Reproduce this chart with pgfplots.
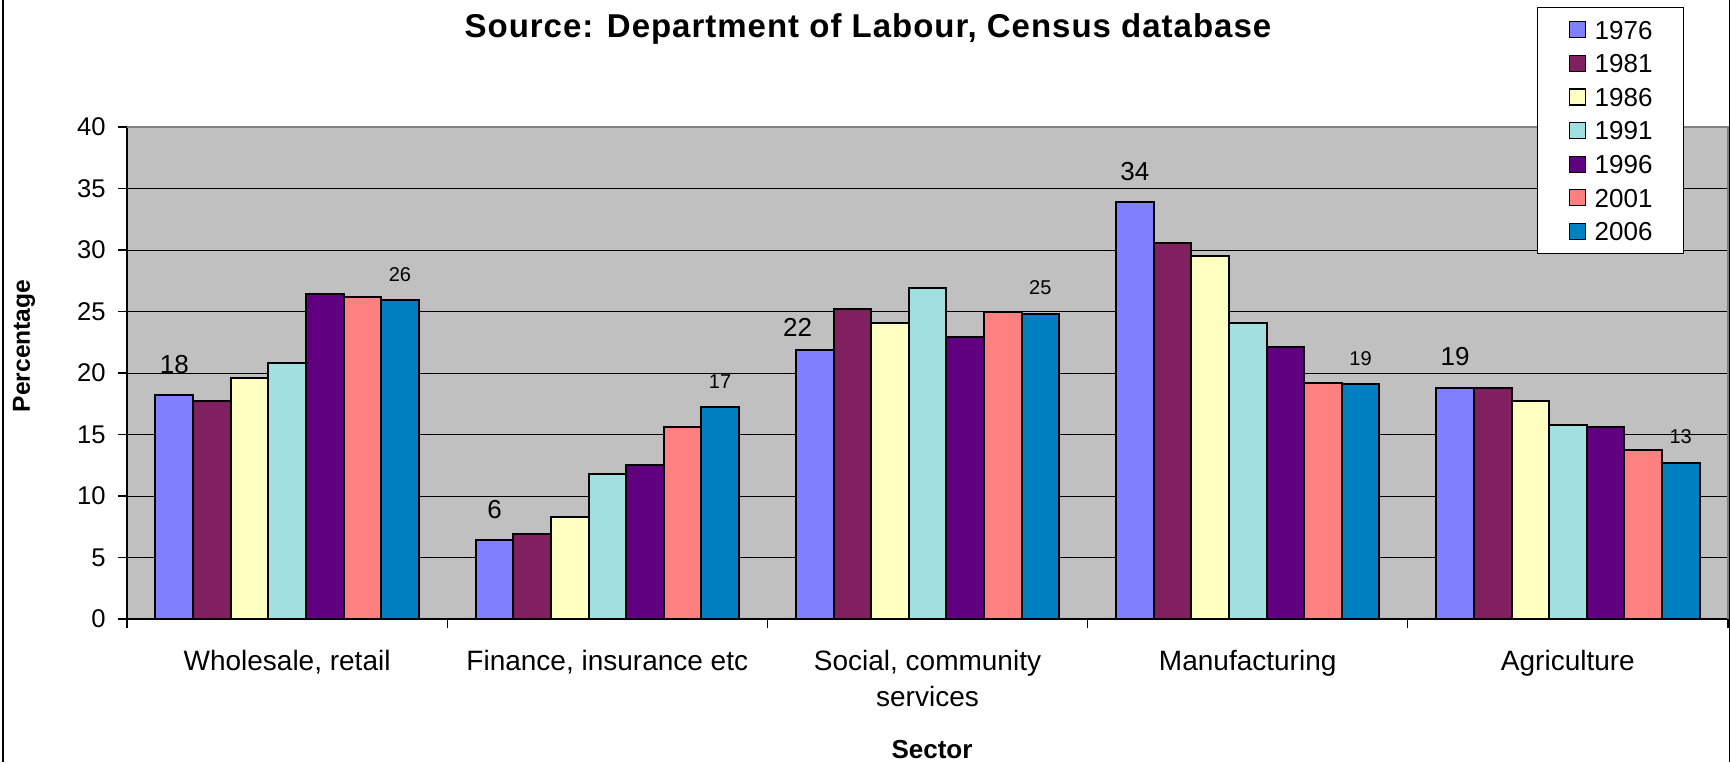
\documentclass[border=0pt]{standalone}
\usepackage{fontspec}
\setmainfont{Liberation Sans}
\usepackage{pgfplots}
\usepackage{pgfplotstable}
\pgfplotsset{compat=1.18}

\definecolor{c1976}{HTML}{8080FF}
\definecolor{c1981}{HTML}{802060}
\definecolor{c1986}{HTML}{FFFFC0}
\definecolor{c1991}{HTML}{A0E0E0}
\definecolor{c1996}{HTML}{600080}
\definecolor{c2001}{HTML}{FF8080}
\definecolor{c2006}{HTML}{0080C0}
\definecolor{plotbg}{HTML}{C0C0C0}
\definecolor{frame}{HTML}{808080}

% Share of employment (%) by sector, census years 1976--2006
% (labdx, labdy: placement of the 1976 value label, in pt)
\pgfplotstableread{
x  y1976 y1981 y1986 y1991 y1996 y2001 y2006 labdx labdy
0  18.2  17.7  19.6  20.8  26.4  26.2  25.9  0     11
1  6.4   6.9   8.3   11.8  12.5  15.6  17.2  0     11
2  21.9  25.2  24.1  26.9  22.9  25.0  24.8  -8.5  6.6
3  33.9  30.6  29.5  24.1  22.1  19.2  19.1  0     11
4  18.8  18.8  17.7  15.8  15.6  13.7  12.7  0     11
}\sectordata

\begin{document}
\begin{tikzpicture}
\useasboundingbox (0,0) rectangle (865pt,381pt);
% chart frame
\draw[black, line width=0.6pt] (1.5pt,0pt) -- (1.5pt,381pt);
\draw[black, line width=0.6pt] (864.6pt,0pt) -- (864.6pt,381pt);
\begin{axis}[
  at={(63.5pt,71.5pt)}, anchor=south west,
  width=800.5pt, height=246pt, scale only axis,
  ybar=0pt, bar width=18.8pt,
  xmin=-0.5, xmax=4.5, ymin=0, ymax=40,
  axis lines*=left, axis line style={-, black, line width=0.6pt},
  axis background/.style={fill=plotbg},
  xtick={0,1,2,3,4},
  xticklabels={{Wholesale, retail},{Finance, insurance etc},{Social, community\\services},{Manufacturing},{Agriculture}},
  minor xtick={-0.5,0.5,1.5,2.5,3.5,4.5},
  major x tick style={draw=none},
  minor x tick style={black, line width=0.6pt},
  ytick={0,5,...,40},
  ytick style={black, line width=0.6pt},
  tick align=outside,
  major tick length=4.5pt, minor tick length=4.5pt,
  ymajorgrids, major grid style={black, line width=0.5pt},
  /pgf/number format/assume math mode=true,
  xticklabel style={font=\fontsize{14}{18}\selectfont, align=center, inner sep=0pt, anchor=north, yshift=-11pt},
  yticklabel style={font=\fontsize{12.8}{15}\selectfont, inner sep=0pt, anchor=east, xshift=-6pt},
  title={Source: Department of Labour, Census database},
  title style={at={(axis description cs:0.4628,1.1823)}, anchor=base, yshift=-6pt,
    font=\bfseries\fontsize{16.5}{18}\selectfont\addfontfeature{LetterSpace=3}},
  ylabel={Percentage},
  ylabel style={at={(axis description cs:-0.0643,0.5549)}, anchor=center, font=\bfseries\fontsize{12.3}{14}\selectfont},
  xlabel={Sector},
  xlabel style={at={(axis description cs:0.5028,-0.2663)}, anchor=center, font=\bfseries\fontsize{13}{15}\selectfont},
  legend cell align=left,
  legend image code/.code={\draw[#1, draw=black, line width=0.6pt] (0pt,-4pt) rectangle (8pt,4pt);},
  legend style={at={(axis description cs:0.8807,1.2439)}, anchor=north west,
    draw=black, line width=0.5pt, fill=white,
    font=\fontsize{13}{15}\selectfont,
    inner xsep=15.5pt, inner ysep=6.5pt,
    nodes={inner sep=0pt, text height=9.3pt, text depth=0pt},
    row sep=7.5pt, column sep=4.5pt},
  after end axis/.code={
    \draw[frame, line width=1pt] (rel axis cs:0,1) -- (rel axis cs:1,1) -- (rel axis cs:1,0);
  },
]
\addplot[fill=c1976, draw=black, line width=1pt, point meta=y,
  visualization depends on={\thisrow{labdx} \as \labdx},
  visualization depends on={\thisrow{labdy} \as \labdy},
  nodes near coords={\pgfmathprintnumber[fixed,precision=0,assume math mode=true]{\pgfplotspointmeta}},
  every node near coord/.append style={anchor=base, inner sep=0pt, xshift=\labdx pt, yshift=\labdy pt,
    font=\fontsize{13}{15}\selectfont, black}]
  table[x=x, y=y1976] {\sectordata};
\addplot[fill=c1981, draw=black, line width=1pt] table[x=x, y=y1981] {\sectordata};
\addplot[fill=c1986, draw=black, line width=1pt] table[x=x, y=y1986] {\sectordata};
\addplot[fill=c1991, draw=black, line width=1pt] table[x=x, y=y1991] {\sectordata};
\addplot[fill=c1996, draw=black, line width=1pt] table[x=x, y=y1996] {\sectordata};
\addplot[fill=c2001, draw=black, line width=1pt] table[x=x, y=y2001] {\sectordata};
\addplot[fill=c2006, draw=black, line width=1pt, point meta=y,
  nodes near coords={\pgfmathprintnumber[fixed,precision=0,assume math mode=true]{\pgfplotspointmeta}},
  every node near coord/.append style={anchor=base, inner sep=0pt, yshift=9.5pt, font=\fontsize{10}{12}\selectfont, black}]
  table[x=x, y=y2006] {\sectordata};
\legend{1976,1981,1986,1991,1996,2001,2006}
\end{axis}
\end{tikzpicture}
\end{document}
